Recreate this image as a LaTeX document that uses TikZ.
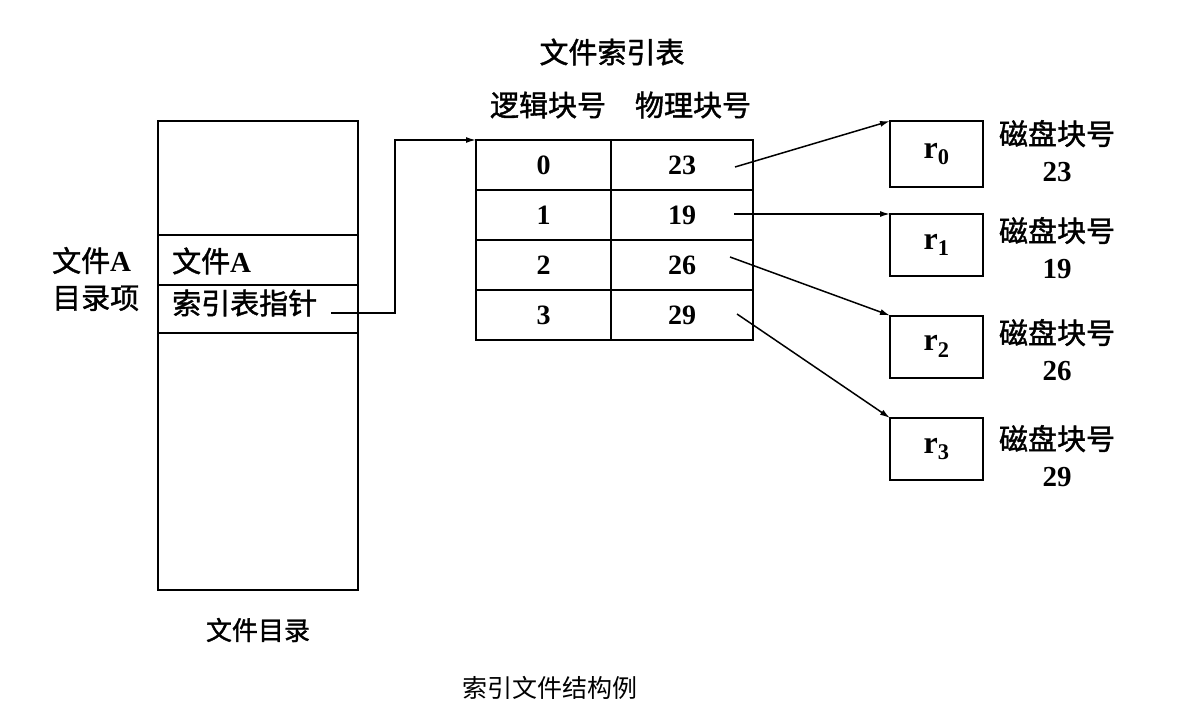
\documentclass[tikz,border=0pt]{standalone}
\usepackage{fontspec}
\setmainfont{Liberation Serif}
\newfontfamily\cjk{Noto Sans CJK SC}
\newfontfamily\cjkb[FakeBold=1.4]{Noto Sans CJK SC}
\usepackage{tikz}
\usetikzlibrary{arrows.meta, positioning, calc}
\newcommand{\bnum}[1]{{\rmfamily\bfseries #1}}

\begin{document}
\begin{tikzpicture}[
		x=1pt, y=-1pt,
		node distance=0pt,
		slot/.style={draw, line width=2pt, outer sep=0pt, inner sep=0pt, minimum width=200pt},
		cell/.style={draw, line width=2pt, outer sep=0pt, inner sep=0pt, minimum height=50pt, font=\bfseries\fontsize{28}{30}\selectfont},
		lcol/.style={cell, minimum width=135pt},
		rcol/.style={cell, minimum width=142pt},
		blk/.style={draw, line width=2pt, outer sep=0pt, inner sep=0pt, minimum width=93pt, minimum height=62pt, font=\bfseries\fontsize{32}{34}\selectfont},
		lab/.style={font=\cjkb\fontsize{29}{37}\selectfont, inner sep=0pt},
		arr/.style={-{Latex[length=10pt, width=6pt]}, line width=1.5pt}
	]
		\useasboundingbox (0,0) rectangle (1204,706);

		% directory
		\node[slot, minimum height=114pt] (d0) at (258,178) {};
		\node[slot, minimum height=50pt, below=of d0] (d1) {};
		\node[slot, minimum height=48pt, below=of d1] (d2) {};
		\node[slot, minimum height=257pt, below=of d2] (d3) {};
		\node[lab, anchor=west] (fa) at (172,261) {文件\bnum{A}};
		\node[lab, anchor=west] (fp) at (172,303) {索引表指针};
		\node[lab, anchor=west, align=left] (ent) at (52,279) {文件\bnum{A}\\目录项};
		\node[lab, font=\cjkb\fontsize{26}{30}\selectfont] (dirname) at (258,630) {文件目录};

		% index table
		\node[lcol] (t00) at (543.5,165) {0};
		\node[rcol, right=of t00] (t01) {23};
		\node[lcol, below=of t00] (t10) {1};
		\node[rcol, right=of t10] (t11) {19};
		\node[lcol, below=of t10] (t20) {2};
		\node[rcol, right=of t20] (t21) {26};
		\node[lcol, below=of t20] (t30) {3};
		\node[rcol, right=of t30] (t31) {29};
		\node[lab] (ttl) at (612,52) {文件索引表};
		\node[lab] (hl) at (548,105) {逻辑块号};
		\node[lab] (hr) at (693,105) {物理块号};

		% disk blocks
		\node[blk, minimum height=66pt] (r0) at (936.5,154) {r\textsubscript{0}};
		\node[blk] (r1) at (936.5,245) {r\textsubscript{1}};
		\node[blk] (r2) at (936.5,346.5) {r\textsubscript{2}};
		\node[blk] (r3) at (936.5,449) {r\textsubscript{3}};
		\node[lab, align=center] (k0) at (1057,151) {磁盘块号\\\bnum{23}};
		\node[lab, align=center] (k1) at (1057,248) {磁盘块号\\\bnum{19}};
		\node[lab, align=center] (k2) at (1057,350) {磁盘块号\\\bnum{26}};
		\node[lab, align=center] (k3) at (1057,456) {磁盘块号\\\bnum{29}};

		\node[font=\cjk\fontsize{25}{30}\selectfont, inner sep=0pt] (cap) at (550,688) {索引文件结构例};

		% pointers
		\coordinate (ptr) at (331,313);
		\coordinate (s0) at (735,167);
		\coordinate (s1) at (734,214);
		\coordinate (s2) at (730,257);
		\coordinate (s3) at (737,314);

		\draw[arr] (ptr) -- (395,313) |- (t00.north west);
		\draw[arr] (s0) -- (r0.north west);
		\draw[arr] (s1) -- (r1.north west);
		\draw[arr] (s2) -- (r2.north west);
		\draw[arr] (s3) -- (r3.north west);
	\end{tikzpicture}
\end{document}
